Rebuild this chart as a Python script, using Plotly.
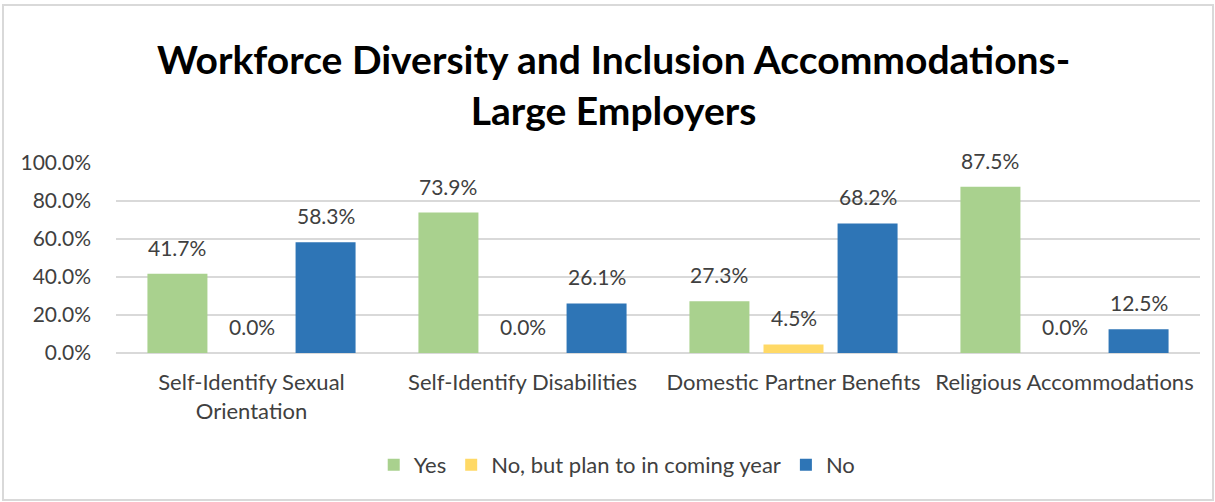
import plotly.graph_objects as go

categories = ["Self-Identify Sexual<br>Orientation", "Self-Identify Disabilities",
              "Domestic Partner Benefits", "Religious Accommodations"]
yes_vals = [41.7, 73.9, 27.3, 87.5]
plan_vals = [0.0, 0.0, 4.5, 0.0]
no_vals = [58.3, 26.1, 68.2, 12.5]

series = [
    ("Yes", yes_vals, "#A9D18E"),
    ("No, but plan to in coming year", plan_vals, "#FFD966"),
    ("No", no_vals, "#2E75B6"),
]

font_family = "Lato, 'Open Sans', sans-serif"
text_color = "#404040"

W, H = 1215, 502
ml, mr, mt, mb = 116, 15, 163, 149
plot_w = W - ml - mr
plot_h = H - mt - mb

bargap, bargroupgap = 0.18, 0.19
slot_px = plot_w / len(categories) * (1 - bargap) / len(series)

fig = go.Figure()
for i, (name, vals, color) in enumerate(series):
    fig.add_trace(go.Bar(
        x=categories, y=vals, name=name,
        marker=dict(color=color, line=dict(width=0)),
    ))
    # value labels above each bar
    for cat, v in zip(categories, vals):
        fig.add_annotation(
            x=cat, y=v, xref="x", yref="y",
            text=f"{v:.1f}%", showarrow=False,
            xshift=(i - 1) * slot_px, yshift=12, yanchor="bottom",
            font=dict(size=21, color=text_color, family=font_family),
        )

fig.update_layout(
    width=W, height=H,
    margin=dict(l=ml, r=mr, t=mt, b=mb),
    paper_bgcolor="white", plot_bgcolor="white",
    barmode="group", bargap=bargap, bargroupgap=bargroupgap,
    font=dict(family=font_family, color=text_color),
    title=dict(
        text="<b>Workforce Diversity and Inclusion Accommodations-<br>Large Employers</b>",
        x=0.505, xref="container", xanchor="center",
        y=1 - 74 / H, yanchor="middle", yref="container",
        font=dict(size=39, color="#000000", family=font_family),
    ),
    showlegend=True,
    legend=dict(
        orientation="h", xref="container", x=0.508, xanchor="center",
        yref="container", y=(H - 465) / H, yanchor="middle",
        font=dict(size=22, color=text_color, family=font_family),
        traceorder="normal",
    ),
    xaxis=dict(
        tickfont=dict(size=22, color=text_color, family=font_family),
        showline=False, ticks="", showgrid=False, ticklabelstandoff=14,
    ),
    yaxis=dict(
        range=[0, 100], dtick=20, tickformat=".1f", ticksuffix="%",
        tickfont=dict(size=21, color=text_color, family=font_family),
        showgrid=True, gridcolor="#D9D9D9", gridwidth=2,
        zeroline=True, zerolinecolor="#D9D9D9", zerolinewidth=2,
        ticks="", ticklabelstandoff=24,
    ),
)

# light outer frame around the chart area
fig.add_shape(
    type="rect", xref="paper", yref="paper",
    x0=(3 - ml) / plot_w, x1=(W - 2 - ml) / plot_w,
    y0=(H - mb - (H - 2)) / plot_h, y1=(H - mb - 5) / plot_h,
    line=dict(color="#D9D9D9", width=2), fillcolor="rgba(0,0,0,0)", layer="below",
)

fig.write_html("out.html")
